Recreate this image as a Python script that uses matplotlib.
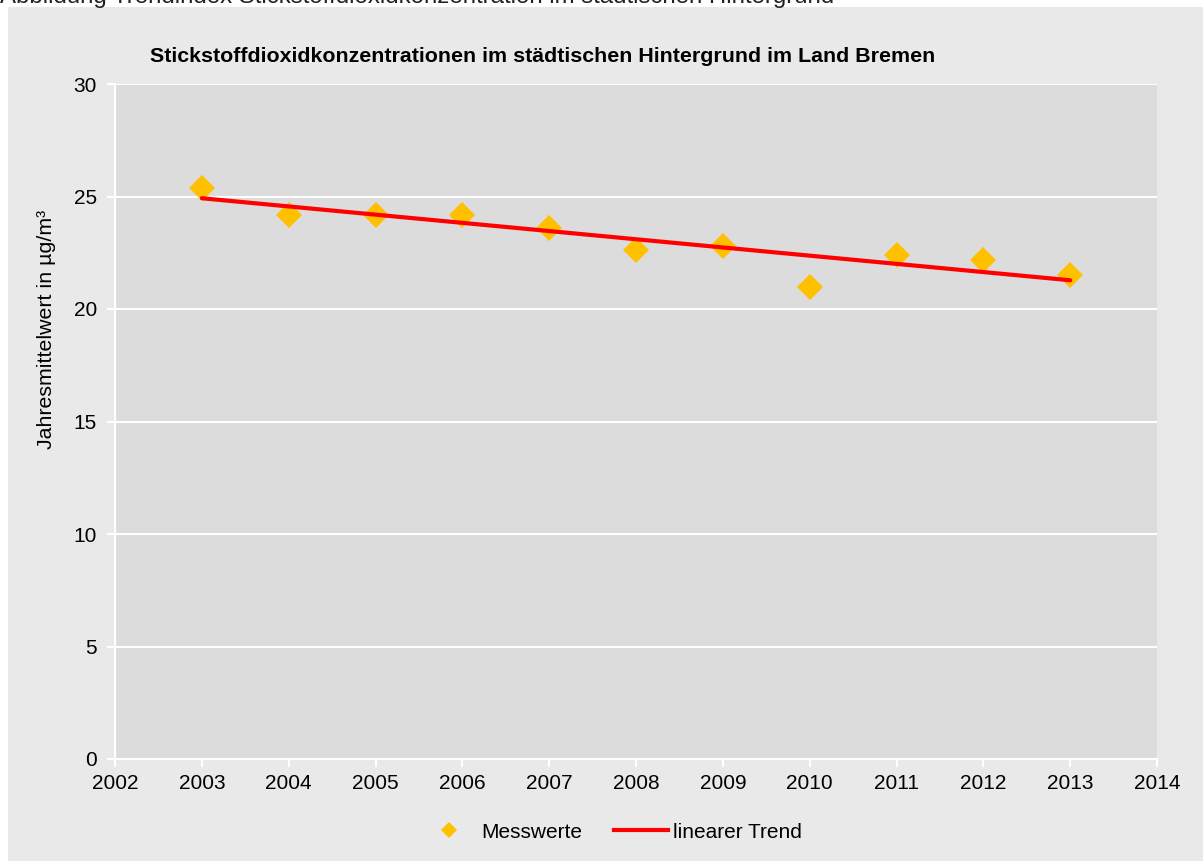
import matplotlib.pyplot as plt
import matplotlib.patches as mpatches
from matplotlib.lines import Line2D
import numpy as np

plt.rcParams['font.family'] = ['Liberation Sans', 'DejaVu Sans']

# Daten
jahre = np.arange(2003, 2014)
messwerte = [25.4, 24.2, 24.2, 24.2, 23.6, 22.6, 22.8, 21.0, 22.4, 22.2, 21.5]
x_ticks = np.arange(2002, 2015)
y_ticks = np.arange(0, 31, 5)

titel = 'Stickstoffdioxidkonzentrationen im städtischen Hintergrund im Land Bremen'
unterschrift = 'Abbildung Trendindex Stickstoffdioxidkonzentration im städtischen Hintergrund'

# linearer Trend aus den Messwerten
koeff = np.polyfit(jahre, messwerte, 1)
trend = np.polyval(koeff, jahre)

W, H = 1203, 861
fig = plt.figure(figsize=(W / 100, H / 100), dpi=100)
fig.patch.set_facecolor('white')

# grauer Rahmen des Diagramms
fig.patches.append(mpatches.Rectangle((8 / W, 0), 1, (H - 7) / H,
                                      transform=fig.transFigure,
                                      facecolor='#E9E9E9', edgecolor='none',
                                      zorder=-10))

fig.text(0.0, 1 - 3 / H, unterschrift, fontsize=17.3, va='baseline', ha='left',
         color='#222222')

ax = fig.add_axes([115 / W, 1 - 759 / H, (1157 - 115) / W, (759 - 84) / H])
ax.set_zorder(1)
ax.set_facecolor('#DCDCDC')

ax.plot(jahre, messwerte, linestyle='none', marker='D', markersize=13.5,
        color='#FFC000', markeredgewidth=0, zorder=3)
ax.plot(jahre, trend, color='#FF0000', linewidth=3, zorder=4,
        solid_capstyle='round')

ax.set_xlim(2002, 2014)
ax.set_ylim(0, 30)
ax.set_xticks(x_ticks)
ax.set_yticks(y_ticks)

ax.grid(axis='y', color='white', linewidth=1.5)
ax.set_axisbelow(True)
for side in ['top', 'right']:
    ax.spines[side].set_visible(False)
for side in ['left', 'bottom']:
    ax.spines[side].set_color('white')
    ax.spines[side].set_linewidth(1.5)

ax.tick_params(axis='both', colors='white', labelcolor='black', labelsize=15,
               length=6, width=1.5, direction='out')
ax.tick_params(axis='y', pad=7)
ax.tick_params(axis='x', pad=5)

ax.set_ylabel('Jahresmittelwert in µg/m³', fontsize=15.4)
ax.yaxis.set_label_coords(-0.057, 0.637)

fig.text(150 / W, 1 - 56 / H, titel, fontsize=15.4, fontweight='bold',
         ha='left', va='center')

handles = [
    Line2D([], [], linestyle='none', marker='D', markersize=8,
           color='#FFC000', markeredgewidth=0),
    Line2D([], [], color='#FF0000', linewidth=3),
]
fig.legend(handles, ['Messwerte', 'linearer Trend'], loc='center',
           bbox_to_anchor=(612 / W, 1 - 832 / H), ncol=2, frameon=False,
           fontsize=15, handlelength=2.6, handletextpad=0.25,
           columnspacing=1.5)

fig.savefig('out.png', dpi=100)
